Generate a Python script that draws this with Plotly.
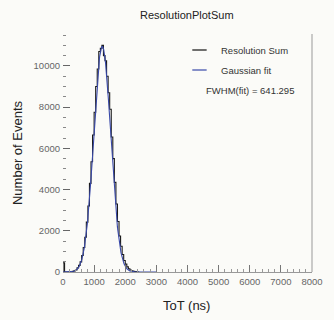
import numpy as np
import plotly.graph_objects as go

# ToT histogram: 50 ns bins starting at 0 ns
bin_width = 50
counts = [
    450, 0, 0, 0, 0, 0,
    30, 60, 105, 200, 320, 490, 800, 1190, 1690, 2420,
    3200, 4300, 5350, 6650, 7750, 9000, 9850, 10700, 10850, 11000,
    10500, 10250, 9500, 8700, 7900, 6550, 5500, 4350, 3300, 2450,
    1750, 1250, 850, 560, 380, 250, 160, 100, 60, 35,
    20, 10, 0,
]

# Gaussian fit parameters
fit_amplitude = 10950
fit_mean = 1260
fwhm_fit = 641.295
fit_sigma = fwhm_fit / (2 * np.sqrt(2 * np.log(2)))
fit_range = (0, 3000)

x_ticks = [0, 1000, 2000, 3000, 4000, 5000, 6000, 7000, 8000]
y_ticks = [0, 2000, 4000, 6000, 8000, 10000]

edges = np.arange(len(counts) + 1) * bin_width
step_x = np.concatenate([[edges[0]], edges[:-1], [edges[-1]]])
step_y = np.concatenate([[0], counts, [0]])

fx = np.linspace(fit_range[0], fit_range[1], 600)
fy = fit_amplitude * np.exp(-0.5 * ((fx - fit_mean) / fit_sigma) ** 2)

fig = go.Figure()
fig.add_trace(go.Scatter(x=step_x, y=step_y, mode="lines",
                         line=dict(shape="hv", color="#1a1a1a", width=1.1),
                         showlegend=False, hoverinfo="skip"))
fig.add_trace(go.Scatter(x=fx, y=fy, mode="lines",
                         line=dict(color="#3848a8", width=1.1),
                         showlegend=False, hoverinfo="skip"))

bg = "#fbfbf8"
tick_font = dict(family="Liberation Sans, Arial, sans-serif", size=9.5, color="#666666")

fig.update_layout(
    width=334, height=320,
    margin=dict(l=63, r=11, t=34, b=48),
    paper_bgcolor=bg, plot_bgcolor=bg,
    font=dict(family="Liberation Sans, Arial, sans-serif", color="#222222"),
    xaxis=dict(range=[0, 8000], tickvals=x_ticks, ticktext=[str(v) for v in x_ticks],
               ticks="inside", ticklen=7, tickcolor="#777777", tickwidth=1,
               minor=dict(dtick=200, ticks="inside", ticklen=3, tickcolor="#999999"),
               showgrid=False, zeroline=False, showline=True, linecolor="#999999",
               linewidth=1, tickfont=tick_font, ticklabelstandoff=1),
    yaxis=dict(range=[0, 11550], tickvals=y_ticks, ticktext=[str(v) for v in y_ticks],
               ticks="inside", ticklen=7, tickcolor="#666666", tickwidth=1,
               minor=dict(dtick=500, ticks="inside", ticklen=3, tickcolor="#888888"),
               showgrid=False, zeroline=False, showline=False,
               tickfont=tick_font, ticklabelstandoff=2),
)

# helpers mapping pixel positions inside the frame to paper coordinates
def px_x(px):
    return (px - 63) / (323 - 63)

def px_y(py):
    return (272 - py) / (272 - 34)

fig.add_annotation(text="ResolutionPlotSum", x=px_x(192), y=px_y(15), xref="paper", yref="paper",
                   showarrow=False, font=dict(size=11, color="#222222"), yanchor="middle")
fig.add_annotation(text="ToT (ns)", x=px_x(192), y=px_y(305), xref="paper", yref="paper",
                   showarrow=False, font=dict(size=13, color="#222222"), yanchor="middle")
fig.add_annotation(text="Number of Events", x=px_x(15), y=0.5, xref="paper", yref="paper",
                   showarrow=False, textangle=-90, font=dict(size=13, color="#222222"),
                   xanchor="center")

legend_entries = [("Resolution Sum", "#111111", 50), ("Gaussian fit", "#3848a8", 70)]
for label, color, py in legend_entries:
    fig.add_shape(type="line", xref="paper", yref="paper",
                  x0=px_x(198), x1=px_x(213), y0=px_y(py), y1=px_y(py),
                  line=dict(color=color, width=1.2))
    fig.add_annotation(text=label, xref="paper", yref="paper", x=px_x(226), y=px_y(py),
                       xanchor="left", yanchor="middle", showarrow=False,
                       font=dict(size=9.5, color="#333333"))
fig.add_annotation(text=f"FWHM(fit) = {fwhm_fit:.3f}", xref="paper", yref="paper",
                   x=px_x(210), y=px_y(90), xanchor="left", yanchor="middle",
                   showarrow=False, font=dict(size=9.5, color="#333333"))

# right frame edge
fig.add_shape(type="line", xref="paper", yref="paper", x0=1, x1=1, y0=0, y1=1,
              line=dict(color="#999999", width=1))

fig.write_html("out.html")
